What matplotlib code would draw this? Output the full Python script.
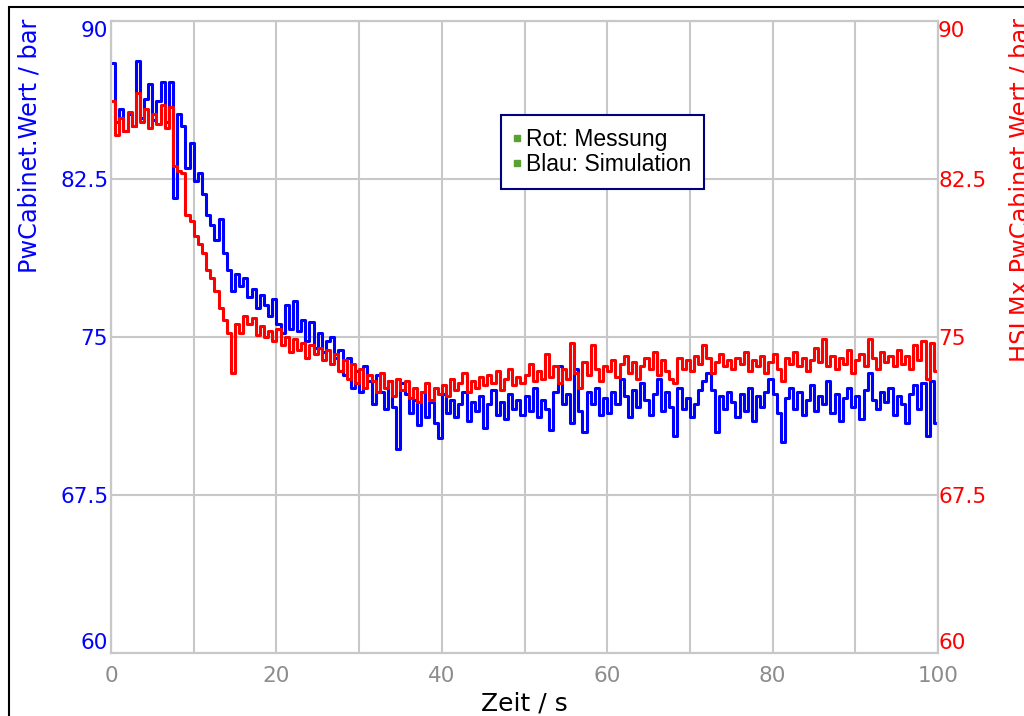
import matplotlib
matplotlib.use('Agg')
import matplotlib.pyplot as plt
import numpy as np
from matplotlib.lines import Line2D
from matplotlib.patches import Rectangle

# Zeitachse, alle 0.5 s ein Wert
zeit = np.arange(0, 100.5, 0.5)

# Blau: Simulation (PwCabinet.Wert / bar)
simulation = [
    88.0, 85.2, 85.8, 84.8, 85.6, 85.0, 88.1, 85.4, 86.3, 87.0,
    85.3, 86.2, 87.1, 85.2, 87.1, 81.6, 85.6, 85.0, 83.0, 84.2,
    82.4, 82.8, 81.8, 80.8, 80.3, 79.6, 80.6, 79.0, 78.2, 77.2,
    78.0, 77.4, 77.8, 76.9, 77.3, 76.4, 77.0, 76.5, 76.0, 76.8,
    75.6, 75.2, 76.5, 75.4, 76.7, 75.3, 75.8, 74.8, 75.7, 74.5,
    75.2, 74.3, 74.8, 75.0, 74.0, 74.4, 73.2, 74.0, 72.6, 73.4,
    72.4, 73.6, 72.9, 71.8, 73.2, 72.4, 71.6, 72.9, 71.7, 69.7,
    72.8, 72.3, 71.4, 72.0, 70.8, 72.4, 71.2, 71.9, 70.9, 70.2,
    72.3, 71.4, 72.0, 71.2, 71.8, 72.4, 71.0, 71.9, 71.5, 72.2,
    70.7, 71.8, 72.5, 71.3, 71.9, 71.1, 72.3, 71.6, 72.0, 71.3,
    72.2, 71.5, 72.6, 71.2, 72.0, 71.6, 70.6, 72.4, 73.6, 71.8,
    72.3, 70.9, 73.5, 71.5, 70.5, 72.4, 71.8, 72.6, 71.3, 72.1,
    71.4, 72.4, 71.8, 73.0, 72.2, 71.2, 72.5, 71.7, 72.8, 72.0,
    71.3, 72.3, 73.0, 71.5, 72.4, 71.7, 70.3, 72.6, 71.6, 72.1,
    71.2, 71.8, 72.5, 72.9, 73.3, 72.5, 70.5, 72.2, 71.6, 72.4,
    71.9, 71.2, 72.3, 71.5, 72.6, 71.0, 72.2, 71.7, 72.4, 73.0,
    72.3, 71.4, 70.0, 72.1, 72.6, 71.6, 72.4, 71.3, 72.0, 72.7,
    71.5, 72.2, 71.8, 72.9, 71.4, 72.3, 71.0, 72.1, 72.6, 71.7,
    72.2, 71.1, 72.5, 73.3, 72.0, 71.6, 72.4, 71.9, 72.6, 71.3,
    72.2, 71.8, 70.9, 72.3, 72.7, 71.6, 72.8, 70.3, 72.9, 70.9,
    72.3,
]

# Rot: Messung (HSLMx.PwCabinet.Wert / bar)
messung = [
    86.2, 84.6, 85.4, 84.8, 85.7, 85.0, 86.6, 85.2, 85.8, 84.9,
    85.6, 85.1, 86.0, 84.9, 85.9, 83.1, 82.9, 82.8, 80.8, 80.5,
    79.8, 79.4, 79.0, 78.2, 77.8, 77.2, 76.4, 75.8, 75.2, 73.3,
    75.6, 75.2, 76.0, 75.6, 75.9, 75.1, 75.5, 75.0, 75.3, 74.8,
    75.4, 74.6, 75.0, 74.3, 74.9, 74.4, 74.7, 74.0, 74.6, 74.2,
    74.5, 73.9, 74.4, 73.7, 74.2, 73.4, 73.9, 73.0, 73.7, 72.8,
    73.5, 72.6, 73.2, 72.9, 72.4, 73.3, 72.6, 72.9, 72.2, 73.0,
    72.5, 72.9, 72.1, 72.6, 71.9, 72.4, 72.8, 72.0, 72.6, 72.3,
    72.7, 72.2, 73.0, 72.5, 72.8, 73.3, 72.4, 72.9, 72.6, 73.1,
    72.7, 73.2, 72.8, 73.4, 72.5, 73.0, 73.5, 72.7, 73.1, 72.8,
    73.2, 73.7, 72.9, 73.4, 73.0, 74.2, 73.1, 73.6, 72.8, 73.5,
    73.0, 74.7, 73.3, 72.6, 73.8, 73.2, 74.6, 73.5, 72.9, 73.6,
    73.4, 73.9, 73.1, 73.7, 74.1, 73.3, 73.8, 73.0, 73.6, 74.0,
    73.5, 74.3, 73.2, 73.9, 73.4, 73.0, 72.8, 74.0, 73.5, 73.9,
    73.4, 74.1, 73.7, 74.6, 74.0, 73.3, 73.8, 74.2, 73.6, 73.9,
    73.5, 74.0, 73.7, 74.3, 73.4, 73.9, 73.6, 74.1, 73.3, 73.8,
    74.2, 73.5, 72.9, 74.0, 73.7, 74.3, 73.6, 74.0, 73.4, 73.9,
    74.5, 73.8, 74.9, 73.6, 74.1, 73.5, 74.0, 73.7, 74.4, 73.3,
    73.9, 74.2, 73.6, 74.9, 74.0, 73.5, 74.3, 73.8, 74.1, 73.6,
    74.4, 73.7, 74.1, 73.5, 74.6, 73.9, 74.8, 73.0, 74.7, 73.4,
    74.2,
]

y_ticks = [60, 67.5, 75, 82.5, 90]
y_ticklabels = ['60', '67.5', '75', '82.5', '90']
x_ticks = [0, 20, 40, 60, 80, 100]
legend_labels = ['Rot: Messung', 'Blau: Simulation']

grid_col = '#c8c8c8'

fig = plt.figure(figsize=(10.24, 7.16), dpi=100)
ax = fig.add_axes([111/1024, 1-653/716, 827/1024, 632/716])
ax2 = ax.twinx()

ax.plot(zeit, simulation, color='#0000ff', lw=2.2, drawstyle='steps-post')
ax2.plot(zeit, messung, color='#ff0000', lw=2.2, drawstyle='steps-post')

for a in (ax, ax2):
    a.set_xlim(0, 100)
    a.set_ylim(60, 90)
    a.set_yticks(y_ticks)
    for s in a.spines.values():
        s.set_color(grid_col)
        s.set_linewidth(1.5)

ax.set_xticks(x_ticks)
ax.set_xticks(np.arange(10, 100, 20), minor=True)
ax.grid(True, which='both', color=grid_col, lw=1.5)
ax.set_axisbelow(True)
ax.tick_params(axis='x', which='both', length=0, pad=9, labelsize=15.5, labelcolor='#8c8c8c')
ax.tick_params(axis='y', length=0, pad=2, labelsize=15.5, labelcolor='#0000ff')
ax2.tick_params(axis='y', length=0, pad=0, labelsize=15.5, labelcolor='#ff0000')

ax.set_yticklabels(y_ticklabels)
ax2.set_yticklabels(y_ticklabels)
# oberste Beschriftung unter die Linie, unterste darüber
for a in (ax, ax2):
    labs = a.get_yticklabels()
    labs[0].set_verticalalignment('bottom')
    labs[-1].set_verticalalignment('top')

ax.set_xlabel('Zeit / s', fontsize=18, labelpad=4)

fig.text(30/1024, 1-19/716, 'PwCabinet.Wert / bar', rotation=90, color='#0000ff',
         fontsize=17.3, ha='center', va='top')
# rechts wie im Original am Bildrand angeschnitten
fig.text(1021/1024, 1-18/716, 'HSLMx.PwCabinet.Wert / bar', rotation=90, color='#ff0000',
         fontsize=17.3, ha='center', va='top')

handles = [Line2D([], [], marker='s', ls='', color='#5ba032', markersize=4) for _ in legend_labels]
leg = ax2.legend(handles, legend_labels, loc='upper left', bbox_to_anchor=(0.4716, 0.851),
                 borderaxespad=0, fancybox=False, framealpha=1, edgecolor='#000080',
                 prop={'family': 'Liberation Sans', 'size': 16.5},
                 handlelength=0.3, handletextpad=0.25, labelspacing=0.1, borderpad=0.55)
leg.get_frame().set_linewidth(1.5)
leg.set_zorder(10)

# schwarzer Rahmen um das Bild
fig.patches.append(Rectangle((9/1024, -0.5), 1.5, 0.5 + 1 - 7/716, transform=fig.transFigure,
                             fill=False, edgecolor='black', lw=1.5))

fig.savefig('out.png', dpi=100)
